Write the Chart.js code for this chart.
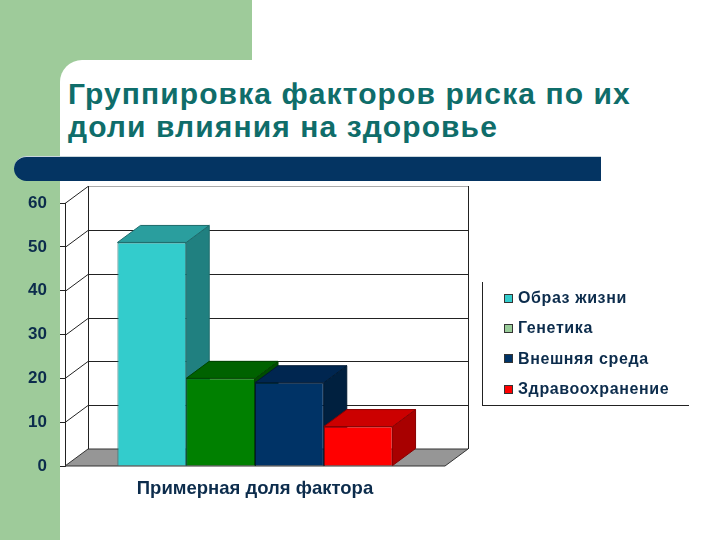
<!DOCTYPE html>
<html lang="ru">
<head>
<meta charset="utf-8">
<script src="https://cdn.jsdelivr.net/npm/chart.js@4.4.1/dist/chart.umd.min.js"></script>
<style>
  html, body { margin: 0; padding: 0; }
  body { width: 720px; height: 540px; position: relative; overflow: hidden; background: #fff;
         font-family: Arial, "Liberation Sans", sans-serif; }
  .green-top { position: absolute; left: 0; top: 0; width: 252px; height: 90px; background: #9ecb9a; }
  .green-left { position: absolute; left: 0; top: 0; width: 60px; height: 540px; background: #9ecb9a; }
  .white-corner { position: absolute; left: 60px; top: 60px; width: 220px; height: 100px; background: #fff;
                  border-top-left-radius: 22px; }
  h1 { position: absolute; left: 68px; top: 77px; margin: 0; font-size: 30px; line-height: 33px;
       font-weight: bold; color: #0f6d6a; letter-spacing: 1.1px; }
  .band { position: absolute; left: 14px; top: 156px; width: 587px; height: 25px; background: #043462;
          border-radius: 13px 0 0 13px; border-top: 1px solid #c9d6dc; box-sizing: border-box; }
  canvas { position: absolute; left: 0; top: 0; }
  #legend { position: absolute; left: 482px; top: 282px; width: 207px; height: 124px;
            border-left: 1px solid #222; border-bottom: 1px solid #222; padding-top: 1px; box-sizing: border-box; }
  .item { height: 30.3px; display: flex; align-items: center; font-size: 16px; font-weight: bold;
          color: #0c2c4c; letter-spacing: 0.6px; }
  .item span.box { width: 9px; height: 9px; margin-left: 21px; margin-right: 5px; border: 1px solid #333; box-sizing: border-box; }
</style>
</head>
<body>
<div class="green-top"></div>
<div class="green-left"></div>
<div class="white-corner"></div>
<h1>Группировка факторов риска по их<br>доли влияния на здоровье</h1>
<div class="band"></div>
<canvas id="chart" width="720" height="540"></canvas>
<div id="legend"></div>
<script>
// chart data
const categories = ['Примерная доля фактора'];
const seriesNames = ['Образ жизни', 'Генетика', 'Внешняя среда', 'Здравоохранение'];
const seriesValues = [51, 20, 19, 9];
const yTicks = [0, 10, 20, 30, 40, 50, 60];

// colours: front face, top face, side face, edges, legend swatch
const frontColors = ['#33cccc', '#008000', '#003366', '#ff0000'];
const topColors = ['#2a9e9e', '#006200', '#002650', '#cc0000'];
const sideColors = ['#208080', '#004d00', '#00203f', '#a80000'];
const edgeColors = ['#1d6b6b', '#004400', '#001a33', '#880000'];
const legendColors = ['#33cccc', '#99cc99', '#003366', '#ff0000'];

const textColor = '#0c2c4c';
const DX = 23, DY = 17; // depth of the 3d box

// --- draws the back wall, side wall, floor and the bar tops/sides ---
const box3d = {
    id: 'box3d',
    beforeDatasetsDraw(chart) {
        const ctx = chart.ctx;
        const area = chart.chartArea;
        const y = chart.scales.y;
        ctx.save();
        ctx.lineWidth = 1;

        // floor
        ctx.fillStyle = '#969696';
        ctx.strokeStyle = '#333';
        ctx.beginPath();
        ctx.moveTo(area.left, area.bottom);
        ctx.lineTo(area.right, area.bottom);
        ctx.lineTo(area.right + DX, area.bottom - DY);
        ctx.lineTo(area.left + DX, area.bottom - DY);
        ctx.closePath();
        ctx.fill();
        ctx.stroke();

        // back wall grid + side wall diagonals
        yTicks.forEach(v => {
            const py = Math.round(y.getPixelForValue(v)) + 0.5;
            if (v > 0) {
                ctx.strokeStyle = v === 60 ? '#aaa' : '#222';
                ctx.beginPath();
                ctx.moveTo(area.left + DX, py - DY);
                ctx.lineTo(area.right + DX, py - DY);
                ctx.stroke();
                ctx.strokeStyle = '#222';
                ctx.beginPath();
                ctx.moveTo(area.left, py);
                ctx.lineTo(area.left + DX, py - DY);
                ctx.stroke();
            }
        });
        ctx.strokeStyle = '#222';
        ctx.beginPath();
        ctx.moveTo(area.left + DX + 0.5, area.top - DY);
        ctx.lineTo(area.left + DX + 0.5, area.bottom - DY);
        ctx.moveTo(area.right + DX + 0.5, area.top - DY);
        ctx.lineTo(area.right + DX + 0.5, area.bottom - DY);
        ctx.stroke();

        // bar sides and tops, left to right
        seriesValues.forEach((val, i) => {
            const bar = chart.getDatasetMeta(i).data[0];
            const p = bar.getProps(['x', 'y', 'base', 'width'], true);
            const l = p.x - p.width / 2, r = p.x + p.width / 2;
            ctx.strokeStyle = edgeColors[i];
            ctx.fillStyle = sideColors[i];
            ctx.beginPath();
            ctx.moveTo(r, p.y);
            ctx.lineTo(r + DX, p.y - DY);
            ctx.lineTo(r + DX, p.base - DY);
            ctx.lineTo(r, p.base);
            ctx.closePath();
            ctx.fill();
            ctx.stroke();
            ctx.fillStyle = topColors[i];
            ctx.beginPath();
            ctx.moveTo(l, p.y);
            ctx.lineTo(r, p.y);
            ctx.lineTo(r + DX, p.y - DY);
            ctx.lineTo(l + DX, p.y - DY);
            ctx.closePath();
            ctx.fill();
            ctx.stroke();
        });
        ctx.restore();
    }
};

const chart = new Chart(document.getElementById('chart'), {
    type: 'bar',
    data: {
        labels: categories,
        datasets: seriesNames.map((name, i) => ({
            label: name,
            data: [seriesValues[i]],
            backgroundColor: frontColors[i],
            borderColor: edgeColors[i],
            borderWidth: 1,
            categoryPercentage: 0.724,
            barPercentage: 1
        }))
    },
    options: {
        responsive: false,
        animation: false,
        layout: { padding: { top: 203, right: 275, left: 0, bottom: 0 } },
        plugins: { legend: { display: false }, tooltip: { enabled: false } },
        scales: {
            x: {
                grid: { display: false, drawTicks: false },
                border: { display: false },
                ticks: { color: textColor, padding: 12, font: { size: 18.5, weight: 'bold', family: 'Arial, "Liberation Sans", sans-serif' } },
                afterFit: s => { s.height = 74; }
            },
            y: {
                min: 0,
                max: 60,
                afterBuildTicks: s => { s.ticks = yTicks.map(v => ({ value: v })); },
                grid: { drawOnChartArea: false, tickLength: 5, color: '#222' },
                border: { display: true, color: '#222' },
                ticks: { color: textColor, padding: 13, font: { size: 17, weight: 'bold', family: 'Arial, "Liberation Sans", sans-serif' } },
                afterFit: s => { s.width = 65; }
            }
        }
    },
    plugins: [box3d]
});

// legend
const legendEl = document.getElementById('legend');
seriesNames.forEach((name, i) => {
    const row = document.createElement('div');
    row.className = 'item';
    row.innerHTML = `<span class="box" style="background:${legendColors[i]}"></span>${name}`;
    legendEl.appendChild(row);
});
</script>
</body>
</html>
